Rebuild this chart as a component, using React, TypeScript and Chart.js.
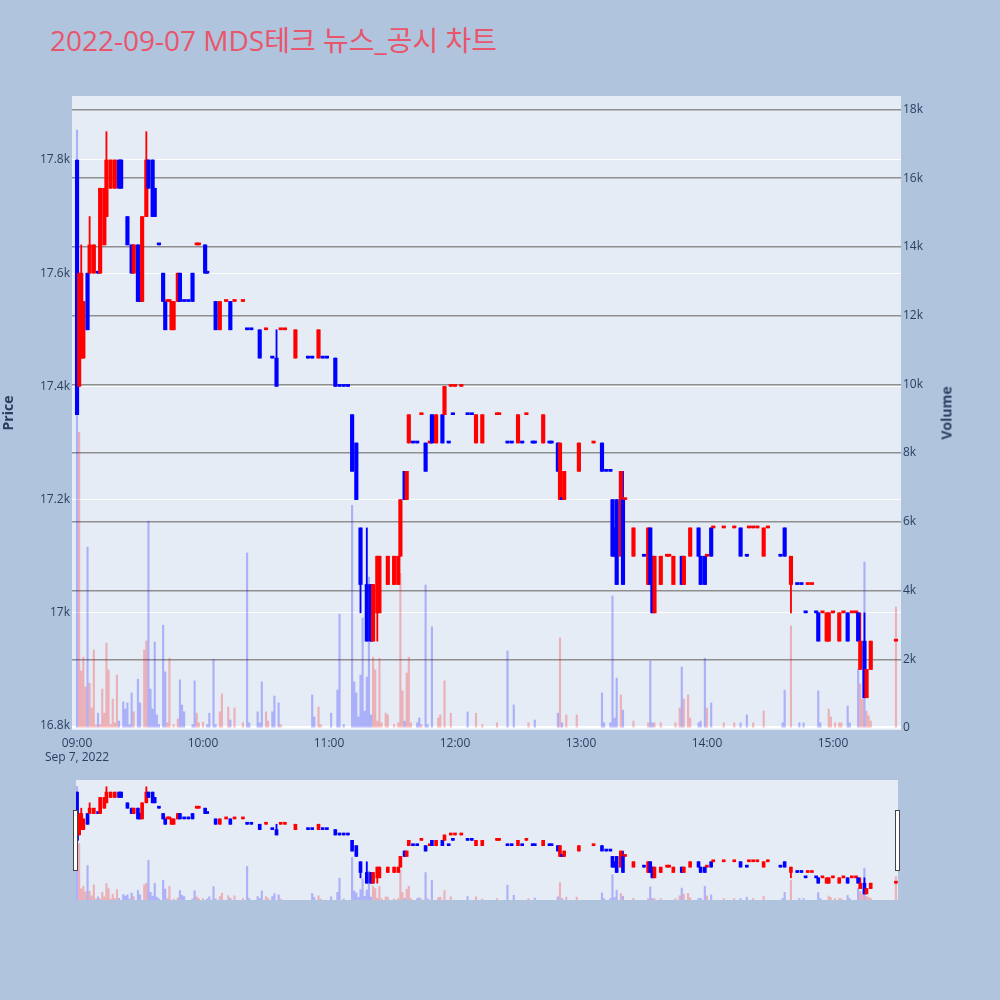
import { useEffect, useRef } from 'react';
import Chart from 'chart.js/auto';

// Minutos desde las 09:00 de cada vela
const candleMinutes = [
  0, 1, 2, 3, 5, 6, 8, 10, 11, 13,
  14, 16, 18, 20, 21, 24, 26, 27, 29, 30,
  31, 33, 34, 36, 37, 39, 41, 42, 43, 44,
  45, 46, 48, 49, 51, 53, 55, 57, 58, 61,
  62, 66, 68, 71, 73, 75, 79, 81, 83, 87,
  90, 93, 95, 97, 99, 104, 110, 112, 115, 117,
  119, 123, 125, 127, 129, 131, 133, 135, 138, 140,
  141, 143, 144, 148, 151, 153, 154, 156, 157, 158,
  160, 162, 164, 166, 168, 169, 171, 174, 175, 177,
  178, 179, 180, 183, 186, 188, 190, 193, 200, 201,
  205, 207, 210, 212, 214, 217, 218, 222, 225, 226,
  229, 230, 231, 232, 239, 246, 250, 252, 254, 255,
  256, 257, 259, 260, 261, 265, 270, 272, 273, 274,
  275, 278, 281, 282, 284, 288, 289, 292, 296, 297,
  299, 300, 302, 303, 308, 313, 316, 319, 320, 322,
  324, 327, 329, 335, 337, 340, 343, 345, 347, 348,
  350, 352, 353, 355, 357, 358, 360, 363, 365, 367,
  369, 371, 372, 373, 375, 376, 378, 390,
];

const opens = [
  17800, 17400, 17450, 17450, 17600, 17600, 17600, 17600, 17600, 17650,
  17700, 17750, 17750, 17800, 17800, 17700, 17650, 17600, 17650, 17600,
  17550, 17700, 17800, 17800, 17750, 17650, 17600, 17550, 17550, 17550,
  17500, 17500, 17550, 17600, 17550, 17550, 17600, 17650, 17650, 17650,
  17600, 17550, 17500, 17550, 17550, 17550, 17550, 17500, 17500, 17500,
  17500, 17450, 17450, 17500, 17500, 17450, 17450, 17450, 17450, 17450,
  17450, 17450, 17400, 17400, 17400, 17350, 17300, 17150, 17050, 17050,
  16950, 17000, 17000, 17050, 17050, 17050, 17100, 17250, 17200, 17300,
  17300, 17300, 17350, 17300, 17300, 17350, 17300, 17350, 17350, 17300,
  17400, 17350, 17400, 17400, 17350, 17350, 17300, 17300, 17350, 17350,
  17300, 17300, 17300, 17300, 17350, 17300, 17300, 17300, 17300, 17300,
  17300, 17200, 17200, 17200, 17250, 17300, 17300, 17250, 17250, 17200,
  17150, 17200, 17100, 17200, 17200, 17100, 17100, 17050, 17150, 17100,
  17000, 17050, 17100, 17100, 17050, 17100, 17050, 17100, 17150, 17100,
  17100, 17100, 17150, 17150, 17150, 17150, 17150, 17100, 17150, 17150,
  17150, 17100, 17150, 17100, 17150, 17050, 17050, 17050, 17000, 17050,
  17050, 17000, 17000, 17000, 16950, 16950, 17000, 16950, 17000, 17000,
  17000, 17000, 17000, 16900, 16950, 16850, 16900, 16950,
];

const highs = [
  17800, 17600, 17650, 17550, 17600, 17700, 17650, 17600, 17750, 17750,
  17850, 17800, 17800, 17800, 17800, 17700, 17650, 17650, 17650, 17600,
  17700, 17850, 17800, 17800, 17750, 17650, 17600, 17550, 17550, 17550,
  17550, 17550, 17600, 17600, 17550, 17550, 17600, 17650, 17650, 17650,
  17600, 17550, 17550, 17550, 17550, 17550, 17550, 17500, 17500, 17500,
  17500, 17450, 17500, 17500, 17500, 17500, 17450, 17450, 17500, 17450,
  17450, 17450, 17400, 17400, 17400, 17350, 17300, 17150, 17150, 17050,
  17050, 17100, 17100, 17100, 17100, 17100, 17200, 17250, 17250, 17350,
  17300, 17300, 17350, 17300, 17300, 17350, 17350, 17350, 17400, 17300,
  17400, 17350, 17400, 17400, 17350, 17350, 17350, 17350, 17350, 17350,
  17300, 17300, 17350, 17300, 17350, 17300, 17300, 17350, 17300, 17300,
  17300, 17300, 17200, 17250, 17300, 17300, 17300, 17250, 17250, 17200,
  17150, 17200, 17250, 17250, 17200, 17150, 17100, 17150, 17150, 17100,
  17100, 17100, 17100, 17100, 17100, 17100, 17100, 17150, 17150, 17100,
  17100, 17100, 17150, 17150, 17150, 17150, 17150, 17100, 17150, 17150,
  17150, 17150, 17150, 17100, 17150, 17100, 17050, 17050, 17000, 17050,
  17050, 17000, 17000, 17000, 17000, 17000, 17000, 17000, 17000, 17000,
  17000, 17000, 17000, 17000, 17000, 16900, 16950, 16950,
];

const lows = [
  17350, 17400, 17450, 17450, 17500, 17600, 17600, 17600, 17600, 17650,
  17700, 17750, 17750, 17750, 17750, 17650, 17600, 17600, 17550, 17550,
  17550, 17700, 17750, 17700, 17700, 17650, 17550, 17500, 17550, 17550,
  17500, 17500, 17550, 17550, 17550, 17550, 17550, 17650, 17650, 17600,
  17600, 17500, 17500, 17550, 17500, 17550, 17550, 17500, 17500, 17450,
  17500, 17450, 17400, 17500, 17500, 17450, 17450, 17450, 17450, 17450,
  17450, 17400, 17400, 17400, 17400, 17250, 17200, 17000, 16950, 16950,
  16950, 16950, 17000, 17050, 17050, 17050, 17100, 17200, 17200, 17300,
  17300, 17300, 17350, 17250, 17300, 17300, 17300, 17300, 17350, 17300,
  17400, 17350, 17400, 17400, 17350, 17350, 17300, 17300, 17350, 17350,
  17300, 17300, 17300, 17300, 17350, 17300, 17300, 17300, 17300, 17300,
  17250, 17200, 17200, 17200, 17250, 17300, 17250, 17250, 17250, 17100,
  17100, 17050, 17100, 17050, 17200, 17100, 17100, 17050, 17050, 17000,
  17000, 17050, 17100, 17100, 17050, 17050, 17050, 17100, 17100, 17050,
  17050, 17100, 17100, 17150, 17150, 17150, 17100, 17100, 17150, 17150,
  17150, 17100, 17150, 17100, 17100, 17000, 17050, 17050, 17000, 17050,
  17050, 17000, 16950, 17000, 16950, 16950, 17000, 16950, 17000, 16950,
  17000, 17000, 16950, 16900, 16850, 16850, 16900, 16950,
];

const closes = [
  17350, 17600, 17600, 17550, 17500, 17650, 17650, 17600, 17750, 17750,
  17800, 17800, 17800, 17750, 17750, 17650, 17600, 17650, 17550, 17550,
  17700, 17800, 17750, 17700, 17700, 17650, 17550, 17500, 17550, 17550,
  17550, 17550, 17600, 17550, 17550, 17550, 17550, 17650, 17650, 17600,
  17600, 17500, 17550, 17550, 17500, 17550, 17550, 17500, 17500, 17450,
  17500, 17450, 17400, 17500, 17500, 17500, 17450, 17450, 17500, 17450,
  17450, 17400, 17400, 17400, 17400, 17250, 17200, 17050, 16950, 16950,
  17050, 17100, 17100, 17100, 17100, 17100, 17200, 17200, 17250, 17350,
  17300, 17300, 17350, 17250, 17300, 17300, 17350, 17300, 17400, 17300,
  17400, 17350, 17400, 17400, 17350, 17350, 17350, 17350, 17350, 17350,
  17300, 17300, 17350, 17300, 17350, 17300, 17300, 17350, 17300, 17300,
  17250, 17300, 17200, 17250, 17300, 17300, 17250, 17250, 17250, 17100,
  17100, 17050, 17250, 17050, 17200, 17150, 17100, 17150, 17050, 17000,
  17100, 17100, 17100, 17100, 17100, 17050, 17100, 17150, 17100, 17050,
  17050, 17100, 17100, 17150, 17150, 17150, 17100, 17100, 17150, 17150,
  17150, 17150, 17150, 17100, 17100, 17100, 17050, 17050, 17000, 17050,
  17050, 17000, 16950, 17000, 17000, 17000, 17000, 17000, 17000, 16950,
  17000, 17000, 16950, 16950, 16850, 16900, 16950, 16950,
];

// Volumen por minuto
const volumeMinutes = [
  0, 1, 2, 3, 4, 5, 6, 7, 8, 9, 10, 11, 12, 13, 14, 15, 16, 17, 18, 19,
  20, 22, 23, 24, 25, 26, 27, 29, 30, 32, 33, 34, 35, 36, 37, 38, 39, 41, 42, 43,
  44, 46, 48, 49, 50, 51, 55, 56, 57, 58, 60, 62, 63, 65, 66, 68, 69, 72, 73, 75,
  79, 81, 82, 86, 87, 88, 90, 91, 93, 94, 96, 97, 112, 113, 115, 116, 121, 124, 125, 127,
  131, 132, 133, 134, 135, 136, 137, 138, 139, 140, 141, 142, 143, 144, 145, 147, 148, 151, 153, 154,
  155, 156, 157, 158, 159, 162, 163, 164, 166, 167, 169, 172, 173, 175, 178, 186, 190, 193, 200, 205,
  208, 215, 218, 229, 230, 231, 233, 238, 250, 251, 254, 255, 256, 257, 259, 260, 265, 272, 273, 274,
  275, 278, 285, 287, 288, 289, 291, 292, 296, 297, 299, 300, 302, 308, 313, 316, 319, 322, 327, 336,
  337, 340, 344, 346, 353, 354, 358, 359, 361, 363, 364, 367, 368, 372, 373, 374, 375, 376, 377, 378,
  390,
];

const volumes = [
  17400, 8600, 1660, 2060, 1190, 5260, 1300, 580, 2270, 90, 430, 100, 1130, 430, 2470, 1690, 100, 840, 150, 1540,
  200, 760, 550, 730, 100, 1020, 470, 1420, 730, 2270, 2530, 6020, 1130, 550, 2500, 380, 100, 2990, 1630, 150,
  2030, 100, 260, 1400, 670, 470, 100, 1370, 430, 150, 170, 100, 430, 2000, 100, 470, 990, 610, 230, 580,
  150, 5090, 150, 470, 150, 1340, 470, 200, 470, 930, 730, 100, 960, 320, 610, 100, 430, 1100, 3310, 100,
  6480, 1340, 1020, 320, 1540, 3200, 490, 1480, 4390, 380, 2060, 1690, 200, 2030, 150, 430, 380, 100, 150, 4500,
  1080, 200, 1600, 2060, 150, 150, 290, 100, 4160, 100, 2940, 290, 380, 1370, 430, 470, 430, 100, 150, 2240,
  670, 150, 230, 430, 2620, 150, 380, 380, 1020, 150, 150, 3840, 290, 1450, 960, 520, 200, 150, 1950, 150,
  150, 150, 150, 580, 1770, 840, 960, 290, 150, 200, 2030, 580, 730, 150, 150, 150, 380, 150, 490, 150,
  1100, 2970, 150, 150, 1080, 150, 550, 320, 150, 150, 150, 640, 150, 1720, 1280, 840, 4830, 490, 350, 200,
  3520,
];

// Marcas de los ejes
const priceTicks = [16800, 17000, 17200, 17400, 17600, 17800];
const volumeTicks = [0, 2000, 4000, 6000, 8000, 10000, 12000, 14000, 16000, 18000];
const hourTicks = [0, 60, 120, 180, 240, 300, 360];

const UP = '#FF0000';
const DOWN = '#0000FF';
const FONT = '"Open Sans", "Noto Sans CJK KR", sans-serif';
const TEXT = '#2a3f5f';

// Rojo si sube, azul si baja (las velas planas siguen al cierre anterior)
const candleUp: boolean[] = [];
closes.forEach((c, i) => {
  const prevClose = i > 0 ? closes[i - 1] : c;
  const prevUp = i > 0 ? candleUp[i - 1] : false;
  if (c > opens[i]) candleUp.push(true);
  else if (c < opens[i]) candleUp.push(false);
  else candleUp.push(c > prevClose ? true : c < prevClose ? false : prevUp);
});

// El volumen toma el color de la vela del mismo minuto (o la anterior)
const volumeUp = volumeMinutes.map(m => {
  let idx = 0;
  candleMinutes.forEach((cm, i) => {
    if (cm <= m) idx = i;
  });
  return candleUp[idx];
});

const buildDatasets = (bodyW: number, wickW: number, volW: number): any[] => [
  {
    type: 'bar',
    data: candleMinutes.map((m, i) => ({ x: m, y: [opens[i], closes[i]].sort((a, b) => a - b) })),
    backgroundColor: candleUp.map(u => (u ? UP : DOWN)),
    barThickness: bodyW,
    minBarLength: 2,
    grouped: false,
    yAxisID: 'y',
    order: 1,
  },
  {
    type: 'bar',
    data: candleMinutes.map((m, i) => ({ x: m, y: [lows[i], highs[i]] })),
    backgroundColor: candleUp.map(u => (u ? UP : DOWN)),
    barThickness: wickW,
    grouped: false,
    yAxisID: 'y',
    order: 2,
  },
  {
    type: 'bar',
    data: volumeMinutes.map((m, i) => ({ x: m, y: volumes[i] })),
    backgroundColor: volumeUp.map(u => (u ? 'rgba(255,0,0,0.25)' : 'rgba(0,0,255,0.25)')),
    barThickness: volW,
    grouped: false,
    yAxisID: 'y2',
    order: 3,
  },
];

const plotBackground = {
  id: 'plotBackground',
  beforeDraw(chart: any) {
    const { ctx, chartArea: a } = chart;
    ctx.save();
    ctx.fillStyle = '#E5ECF6';
    ctx.fillRect(a.left, a.top, a.right - a.left, a.bottom - a.top);
    ctx.restore();
  },
};

const hhmm = (v: number) => `${String(9 + v / 60).padStart(2, '0')}:00`;
const fixTicks = (values: number[]) => (s: any) => {
  s.ticks = values.map(value => ({ value }));
};

export default function App() {
  const mainRef = useRef<HTMLCanvasElement>(null);
  const sliderRef = useRef<HTMLCanvasElement>(null);

  useEffect(() => {
    if (!mainRef.current || !sliderRef.current) return;
    Chart.defaults.font.family = FONT;

    const main = new Chart(mainRef.current, {
      type: 'bar',
      data: { datasets: buildDatasets(3.5, 1.2, 1.5) },
      plugins: [plotBackground],
      options: {
        animation: false,
        responsive: false,
        events: [],
        layout: { padding: { top: 96, left: 0, right: 0, bottom: 0 } },
        plugins: { legend: { display: false }, tooltip: { enabled: false } },
        scales: {
          x: {
            type: 'linear',
            min: -2.4,
            max: 392.4,
            offset: false,
            grid: { display: false, drawTicks: false },
            border: { display: false },
            afterBuildTicks: fixTicks(hourTicks),
            ticks: {
              autoSkip: false,
              maxRotation: 0,
              padding: 6,
              color: TEXT,
              font: { size: 12 },
              callback: (v: any) => (Number(v) === 0 ? [hhmm(0), 'Sep 7, 2022'] : hhmm(Number(v))),
            },
            afterFit: (s: any) => { s.height = 50; },
          },
          y: {
            position: 'left',
            min: 16793,
            max: 17913,
            grid: { color: '#ffffff', lineWidth: 1, drawTicks: false },
            border: { display: false },
            afterBuildTicks: fixTicks(priceTicks),
            ticks: {
              padding: 2,
              color: TEXT,
              font: { size: 12 },
              callback: (v: any) => `${Number(v) / 1000}k`,
            },
            title: {
              display: true,
              text: 'Price',
              color: TEXT,
              font: { size: 14, weight: 'bold' },
              padding: { top: 1, bottom: 0 },
            },
            afterFit: (s: any) => { s.width = 72; },
          },
          y2: {
            position: 'right',
            min: -60,
            max: 18390,
            grid: {
              color: (c: any) => (c.tick && c.tick.value === 0 ? '#ffffff' : '#8f8f8f'),
              lineWidth: 1.4,
              drawTicks: false,
            },
            border: { display: false },
            afterBuildTicks: fixTicks(volumeTicks),
            ticks: {
              padding: 2,
              color: TEXT,
              font: { size: 12 },
              callback: (v: any) => (Number(v) === 0 ? '0' : `${Number(v) / 1000}k`),
            },
            afterFit: (s: any) => { s.width = 99; },
          },
        },
      } as any,
    });

    // Mini gráfico del range slider
    const slider = new Chart(sliderRef.current, {
      type: 'bar',
      data: { datasets: buildDatasets(3, 1.2, 1.5) },
      options: {
        animation: false,
        responsive: false,
        events: [],
        layout: { padding: 0 },
        plugins: { legend: { display: false }, tooltip: { enabled: false } },
        scales: {
          x: { type: 'linear', display: false, min: -0.5, max: 391, offset: false },
          y: { display: false, min: 16793, max: 17913 },
          y2: { display: false, min: -60, max: 18390 },
        },
      } as any,
    });

    return () => {
      main.destroy();
      slider.destroy();
    };
  }, []);

  const handle = (left: number) => (
    <div
      style={{
        position: 'absolute',
        left,
        top: 810,
        width: 3,
        height: 59,
        background: '#ffffff',
        border: '1px solid #444444',
      }}
    />
  );

  return (
    <div
      style={{
        position: 'absolute',
        left: 0,
        top: 0,
        width: 1000,
        height: 1000,
        background: '#B0C4DE',
        overflow: 'hidden',
        fontFamily: FONT,
      }}
    >
      <div
        style={{
          position: 'absolute',
          left: 50,
          top: 26,
          fontSize: 28,
          lineHeight: '28px',
          color: '#E8566B',
          whiteSpace: 'nowrap',
        }}
      >
        2022-09-07 MDS테크 뉴스_공시 차트
      </div>
      <canvas ref={mainRef} width={1000} height={780} style={{ position: 'absolute', left: 0, top: 0 }} />
      <div
        style={{
          position: 'absolute',
          left: 946,
          top: 413,
          transform: 'translate(-50%, -50%) rotate(-90deg)',
          fontSize: 14,
          fontWeight: 'bold',
          color: TEXT,
          whiteSpace: 'nowrap',
        }}
      >
        Volume
      </div>
      <canvas
        ref={sliderRef}
        width={822}
        height={120}
        style={{ position: 'absolute', left: 76, top: 780, background: '#E5ECF6' }}
      />
      {handle(73)}
      {handle(895)}
    </div>
  );
}
